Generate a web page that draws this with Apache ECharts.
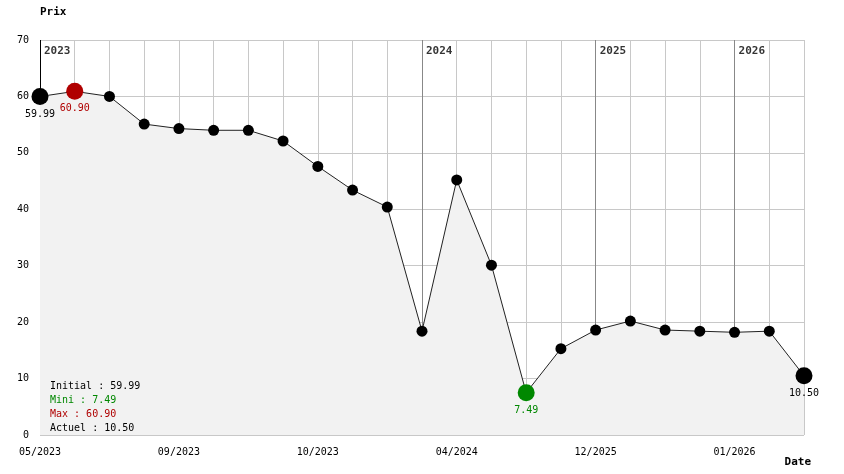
<!DOCTYPE html>
<html><head><meta charset="utf-8">
<script src="https://cdn.jsdelivr.net/npm/echarts@6/dist/echarts.min.js"></script>
<style>html,body{margin:0;padding:0;background:#fff}#c{width:844px;height:474px}</style>
</head><body><div id="c"></div>
<script>
const categories = ['05/2023','','','','09/2023','','','','10/2023','','','','04/2024','','','','12/2025','','','','01/2026','',''];
const values = [59.99, 60.90, 60.0, 55.1, 54.3, 54.0, 54.0, 52.1, 47.6, 43.4, 40.4, 18.4, 45.2, 30.1, 7.49, 15.3, 18.6, 20.2, 18.6, 18.4, 18.2, 18.4, 10.50];
const yearIdx = [0, 11, 16, 20];
const yearLabels = ['2023', '2024', '2025', '2026'];
const yTicks = [0, 10, 20, 30, 40, 50, 60, 70];

const FONT = '"DejaVu Sans Mono", "Liberation Mono", monospace';
const RED = '#b00000', GREEN = '#008800';
const n = values.length;
const vMin = Math.min(...values), vMax = Math.max(...values);
const iMin = values.indexOf(vMin), iMax = values.indexOf(vMax);
const special = {};
special[0] = '#000'; special[iMax] = RED; special[iMin] = GREEN; special[n - 1] = '#000';

const data = values.map((v, i) => {
  if (special[i]) {
    return {value: v, symbolSize: 17, itemStyle: {color: special[i]},
      label: {show: true, position: 'bottom', distance: 4, color: special[i], fontFamily: FONT, fontSize: 10,
        formatter: p => p.value.toFixed(2)}};
  }
  return {value: v, symbolSize: 11, itemStyle: {color: '#000'}};
});

const yMax = yTicks[yTicks.length - 1];
const yearLines = yearIdx.map((idx, k) => [
  {coord: [idx, yMax], lineStyle: {color: k === 0 ? '#000' : '#888', width: 1, type: 'solid'}},
  {coord: [idx, values[idx]]}
]);

const chart = echarts.init(document.getElementById('c'), null, {renderer: 'canvas'});
chart.setOption({
  animation: false,
  backgroundColor: '#fff',
  grid: {left: 40, right: 40, top: 40, bottom: 39},
  xAxis: {
    type: 'category', data: categories, boundaryGap: false,
    axisLine: {show: false}, axisTick: {show: false},
    axisLabel: {interval: 0, color: '#000', fontFamily: FONT, fontSize: 10, margin: 12},
    splitLine: {show: true, interval: 0, lineStyle: {color: '#c8c8c8', width: 1}},
    name: 'Date', nameLocation: 'end', nameGap: 7,
    nameTextStyle: {fontFamily: FONT, fontSize: 11, fontWeight: 'bold', color: '#000', align: 'right', verticalAlign: 'top', padding: [22, 0, 0, 0]}
  },
  yAxis: {
    type: 'value', min: yTicks[0], max: yMax, interval: 10,
    axisLine: {show: false}, axisTick: {show: false},
    axisLabel: {color: '#000', fontFamily: FONT, fontSize: 10, margin: 11},
    splitLine: {show: true, lineStyle: {color: '#c8c8c8', width: 1}},
    name: 'Prix', nameLocation: 'end', nameGap: 22,
    nameTextStyle: {fontFamily: FONT, fontSize: 11, fontWeight: 'bold', color: '#000', align: 'left'}
  },
  series: [
    {
      type: 'line', data: data, symbol: 'circle', showAllSymbol: true,
      lineStyle: {color: '#222', width: 1},
      areaStyle: {color: '#f2f2f2', opacity: 1},
      z: 2,
      markLine: {silent: true, symbol: 'none', label: {show: false}, lineStyle: {type: 'solid'}, data: yearLines, z: 1}
    },
    {
      type: 'scatter', symbolSize: 0, z: 5,
      data: yearIdx.map((idx, k) => ({value: [idx, yMax], name: yearLabels[k]})),
      label: {show: true, position: 'right', distance: 4, offset: [0, 11], formatter: p => p.name,
        fontFamily: FONT, fontSize: 11, fontWeight: 'bold', color: '#000'}
    }
  ],
  graphic: [{
    type: 'text', left: 50, top: 379, z: 10,
    style: {
      text: '{a|Initial : ' + values[0].toFixed(2) + '}\n{g|Mini : ' + vMin.toFixed(2) + '}\n{r|Max : ' + vMax.toFixed(2) + '}\n{a|Actuel : ' + values[n - 1].toFixed(2) + '}',
      font: '10px ' + FONT, lineHeight: 14,
      rich: {
        a: {fill: '#000', fontFamily: FONT, fontSize: 10, lineHeight: 14},
        g: {fill: GREEN, fontFamily: FONT, fontSize: 10, lineHeight: 14},
        r: {fill: RED, fontFamily: FONT, fontSize: 10, lineHeight: 14}
      }
    }
  }]
});
</script></body></html>
